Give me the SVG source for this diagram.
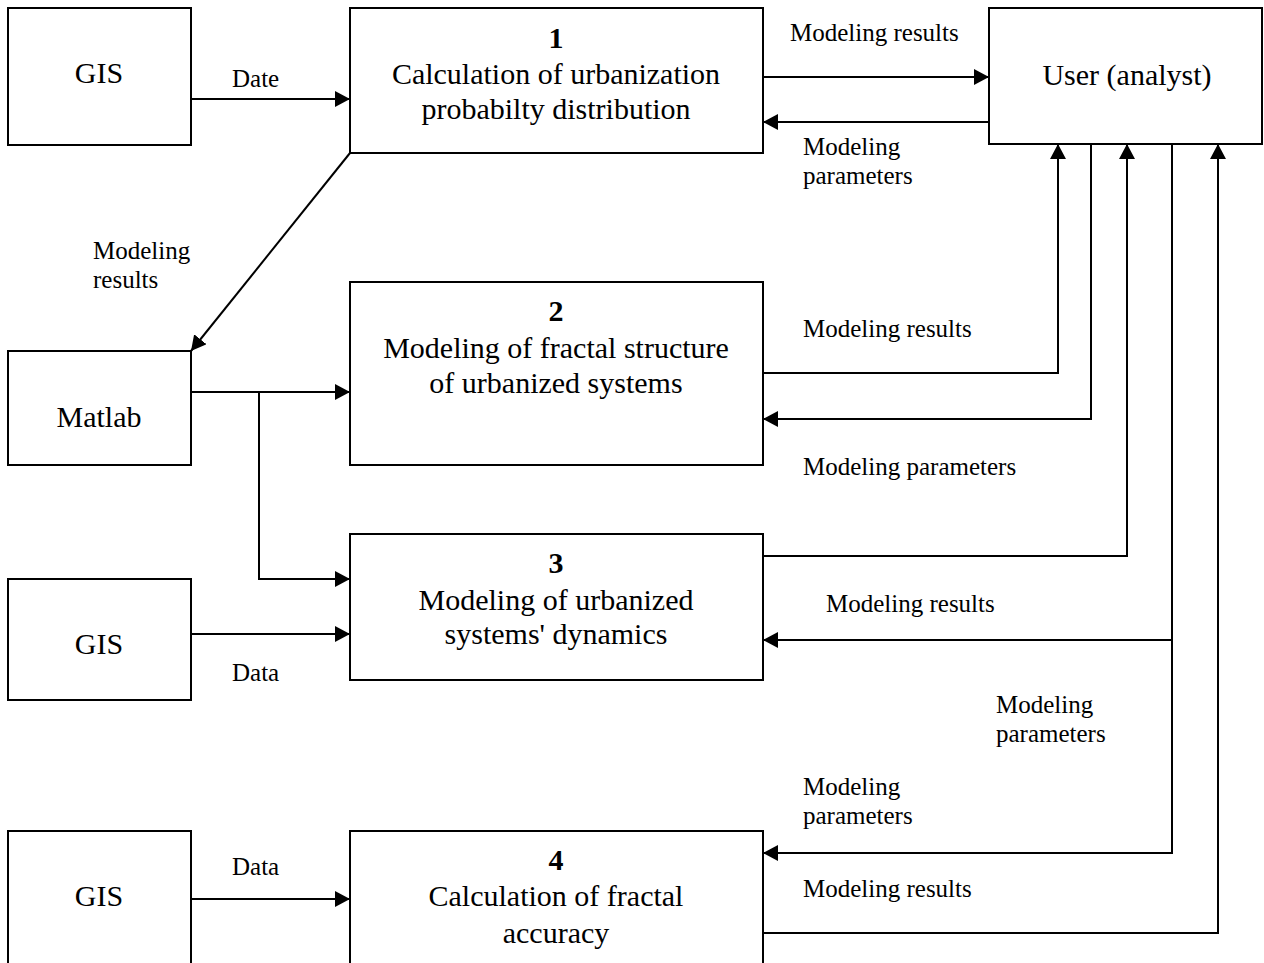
<svg xmlns="http://www.w3.org/2000/svg" width="1264" height="963" viewBox="0 0 1264 963">
<style>
.box{fill:#fff;stroke:#000;stroke-width:2}
.t{font-family:"Liberation Serif","Times New Roman",serif;font-size:30px;fill:#000;text-anchor:middle}
.n{font-weight:bold}
.l{font-family:"Liberation Serif","Times New Roman",serif;font-size:25px;fill:#000}
.c{fill:none;stroke:#000;stroke-width:2}
</style>
<defs>
<marker id="ah" markerUnits="userSpaceOnUse" viewBox="0 0 15 16" refX="15" refY="8" markerWidth="15" markerHeight="16" orient="auto">
<path d="M0,0 L15,8 L0,16 z" fill="#000"/>
</marker>
</defs>
<rect width="1264" height="963" fill="#fff"/>
<g id="gis1"><rect class="box" x="8" y="8" width="183" height="137"/><text class="t" x="99" y="83">GIS</text></g>
<g id="box1"><rect class="box" x="350" y="8" width="413" height="145"/>
<text class="t n" x="556" y="48">1</text>
<text class="t" x="556" y="84">Calculation of urbanization</text>
<text class="t" x="556" y="119">probabilty distribution</text></g>
<g id="user"><rect class="box" x="989" y="8" width="273" height="136"/><text class="t" x="1127" y="85">User (analyst)</text></g>
<g id="matlab"><rect class="box" x="8" y="351" width="183" height="114"/><text class="t" x="99" y="427">Matlab</text></g>
<g id="box2"><rect class="box" x="350" y="282" width="413" height="183"/>
<text class="t n" x="556" y="321">2</text>
<text class="t" x="556" y="358">Modeling of fractal structure</text>
<text class="t" x="556" y="393">of urbanized systems</text></g>
<g id="gis2"><rect class="box" x="8" y="579" width="183" height="121"/><text class="t" x="99" y="654">GIS</text></g>
<g id="box3"><rect class="box" x="350" y="534" width="413" height="146"/>
<text class="t n" x="556" y="573">3</text>
<text class="t" x="556" y="610">Modeling of urbanized</text>
<text class="t" x="556" y="644">systems' dynamics</text></g>
<g id="gis3"><rect class="box" x="8" y="831" width="183" height="140"/><text class="t" x="99" y="906">GIS</text></g>
<g id="box4"><rect class="box" x="350" y="831" width="413" height="140"/>
<text class="t n" x="556" y="870">4</text>
<text class="t" x="556" y="906">Calculation of fractal</text>
<text class="t" x="556" y="943">accuracy</text></g>
<g id="connectors">
<path class="c" d="M191,99 H350" marker-end="url(#ah)"/>
<path class="c" d="M763,77 H989" marker-end="url(#ah)"/>
<path class="c" d="M989,122 H763" marker-end="url(#ah)"/>
<path class="c" d="M350,153 L191,351" marker-end="url(#ah)"/>
<path class="c" d="M191,392 H350" marker-end="url(#ah)"/>
<path class="c" d="M259,392 V579 H350" marker-end="url(#ah)"/>
<path class="c" d="M191,634 H350" marker-end="url(#ah)"/>
<path class="c" d="M191,899 H350" marker-end="url(#ah)"/>
<path class="c" d="M763,373 H1058 V144" marker-end="url(#ah)"/>
<path class="c" d="M1091,144 V419 H763" marker-end="url(#ah)"/>
<path class="c" d="M763,556 H1127 V144" marker-end="url(#ah)"/>
<path class="c" d="M1172,144 V853 H763" marker-end="url(#ah)"/>
<path class="c" d="M1172,640 H763" marker-end="url(#ah)"/>
<path class="c" d="M763,933 H1218 V144" marker-end="url(#ah)"/>
</g>
<g id="labels">
<text class="l" x="232" y="87">Date</text>
<text class="l" x="790" y="41">Modeling results</text>
<text class="l" x="803" y="155">Modeling</text>
<text class="l" x="803" y="184">parameters</text>
<text class="l" x="93" y="259">Modeling</text>
<text class="l" x="93" y="288">results</text>
<text class="l" x="803" y="337">Modeling results</text>
<text class="l" x="803" y="475">Modeling parameters</text>
<text class="l" x="826" y="612">Modeling results</text>
<text class="l" x="232" y="681">Data</text>
<text class="l" x="996" y="713">Modeling</text>
<text class="l" x="996" y="742">parameters</text>
<text class="l" x="803" y="795">Modeling</text>
<text class="l" x="803" y="824">parameters</text>
<text class="l" x="232" y="875">Data</text>
<text class="l" x="803" y="897">Modeling results</text>
</g>
</svg>
